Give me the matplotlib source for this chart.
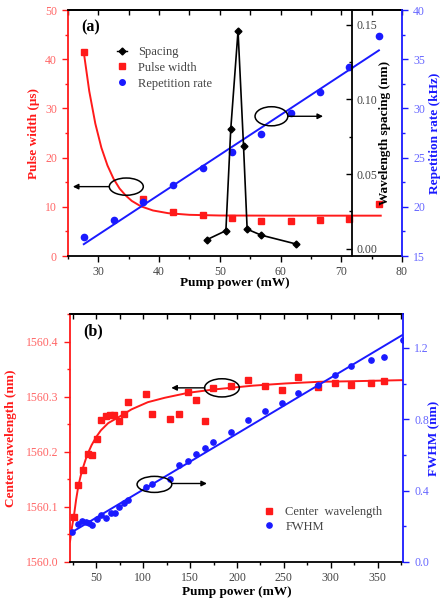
import matplotlib
matplotlib.use('Agg')
import matplotlib.pyplot as plt
from matplotlib.patches import Ellipse
from matplotlib.lines import Line2D
from matplotlib.ticker import MultipleLocator, FormatStrFormatter

plt.rcParams['font.family'] = ['Liberation Serif', 'DejaVu Serif']

RED = '#ff1a1a'
RED_L = '#ff6666'
BLUE = '#1a1aff'
BLUE_L = '#6666ff'
GRAY = '#444444'

# ---------------- Panel (a) data ----------------
pw_x = [27.6, 37.4, 42.3, 47.2, 52.0, 56.8, 61.7, 66.5, 71.3, 76.2]
pw_y = [41.5, 11.6, 8.9, 8.3, 7.7, 7.2, 7.2, 7.3, 7.5, 10.6]
pw_fit_x = [27.6, 28.5, 29.5, 30.5, 31.5, 32.5, 33.5, 34.5, 35.5, 37.0, 39.0, 41.5, 45.0, 50.0, 60.0, 76.5]
pw_fit_y = [41.4, 33.5, 26.9, 22.0, 18.4, 15.7, 13.7, 12.3, 11.2, 10.1, 9.25, 8.7, 8.37, 8.23, 8.2, 8.2]

rep_x = [27.6, 32.6, 37.4, 42.3, 47.2, 52.0, 56.8, 61.7, 66.5, 71.3, 76.2]
rep_y = [16.9, 18.7, 20.5, 22.2, 23.9, 25.6, 27.4, 29.5, 31.7, 34.2, 37.4]
rep_fit_x = [27.6, 76.2]
rep_fit_y = [16.2, 35.9]

sp_x = [47.9, 51.0, 51.8, 53.0, 53.9, 54.5, 56.8, 62.6]
sp_y = [0.006, 0.012, 0.080, 0.146, 0.069, 0.013, 0.009, 0.003]

# ---------------- Panel (b) data ----------------
cw_x = [26.3, 30.9, 36.2, 40.8, 45.1, 50.4, 55.0, 60.0, 64.6, 69.1, 74.1, 79.4, 84.0,
        102.5, 108.9, 128.4, 138.3, 147.9, 156.5, 165.6, 174.5, 193.5, 211.7, 230.3,
        247.9, 265.2, 286.9, 304.6, 322.0, 343.3, 356.4]
cw_y = [1560.082, 1560.140, 1560.167, 1560.196, 1560.195, 1560.223, 1560.257, 1560.265,
        1560.267, 1560.267, 1560.255, 1560.269, 1560.290, 1560.304, 1560.268, 1560.259,
        1560.269, 1560.308, 1560.294, 1560.256, 1560.315, 1560.319, 1560.331, 1560.320,
        1560.312, 1560.335, 1560.317, 1560.325, 1560.321, 1560.325, 1560.328]
cw_fit_x = [22, 24, 26.3, 28.5, 30.9, 33.5, 36.2, 40, 45, 50, 55, 62.7, 75, 87.6, 105,
            123, 148, 175, 217, 252, 288, 323, 377]
cw_fit_y = [1560.037, 1560.062, 1560.085, 1560.113, 1560.138, 1560.157, 1560.173,
            1560.193, 1560.212, 1560.227, 1560.239, 1560.252, 1560.264, 1560.277,
            1560.290, 1560.298, 1560.307, 1560.313, 1560.320, 1560.324, 1560.327,
            1560.328, 1560.330]

fwhm_x = [24.5, 30.2, 34.4, 38.7, 42.2, 45.7, 50.4, 55.0, 60.3, 65.3, 69.9, 74.1, 79.4,
          84.0, 102.5, 108.9, 128.4, 138.3, 147.9, 156.5, 165.6, 174.5, 193.5, 211.7,
          230.3, 247.9, 265.2, 286.9, 304.6, 322.0, 343.3, 356.4, 376.6]
fwhm_y = [0.170, 0.213, 0.230, 0.226, 0.217, 0.207, 0.240, 0.264, 0.245, 0.275, 0.273,
          0.308, 0.329, 0.348, 0.420, 0.436, 0.467, 0.544, 0.565, 0.605, 0.641, 0.673,
          0.731, 0.796, 0.848, 0.890, 0.948, 0.990, 1.049, 1.099, 1.133, 1.148, 1.247]
fwhm_fit_x = [23, 376.6]
fwhm_fit_y = [0.164, 1.273]

TICK_FS = 8.5
LAB_FS = 9.5

fig = plt.figure(figsize=(4.4, 6.03), dpi=100)

def style_spines(ax, left=None, right=None, bottom=None, top=None):
    for name, c in (('left', left), ('right', right), ('bottom', bottom), ('top', top)):
        if c is None:
            ax.spines[name].set_visible(False)
        else:
            ax.spines[name].set_color(c)
            ax.spines[name].set_linewidth(1.3)

def top_ticks(ax, major, minor):
    sec = ax.secondary_xaxis('top')
    sec.xaxis.set_major_locator(MultipleLocator(major))
    sec.xaxis.set_minor_locator(MultipleLocator(minor))
    sec.tick_params(axis='x', which='both', direction='in', labeltop=False, length=3.5, width=1)
    sec.spines['top'].set_linewidth(1.3)

# ================= Panel (a) =================
axA = fig.add_axes([68/440, 1-256/603, 334/440, 246/603])
axA.plot(pw_fit_x, pw_fit_y, color=RED, lw=1.4, zorder=2)
axA.plot(pw_x, pw_y, 's', color=RED, ms=4.5, zorder=3)
axA.set_xlim(25, 80)
axA.set_ylim(0, 50)
style_spines(axA, left=RED, bottom='k', top='k')
axA.xaxis.set_major_locator(MultipleLocator(10))
axA.xaxis.set_minor_locator(MultipleLocator(5))
axA.yaxis.set_major_locator(MultipleLocator(10))
axA.yaxis.set_minor_locator(MultipleLocator(5))
axA.tick_params(axis='x', which='both', direction='out', labelsize=TICK_FS, labelcolor=GRAY, width=1)
axA.tick_params(axis='x', which='major', length=4)
axA.tick_params(axis='x', which='minor', length=2.5)
axA.tick_params(axis='y', which='both', direction='out', labelsize=TICK_FS, labelcolor=RED_L, color=RED, width=1)
axA.tick_params(axis='y', which='major', length=4.5)
axA.tick_params(axis='y', which='minor', length=2.5)
top_ticks(axA, 10, 5)
axA.set_xlabel('Pump power (mW)', fontsize=LAB_FS, fontweight='bold')
axA.xaxis.set_label_coords(0.5, -0.085)
axA.set_ylabel('Pulse width (\u03bcs)', fontsize=LAB_FS, fontweight='bold', color=RED)
axA.yaxis.set_label_coords(-0.085, 0.5)
axA.text(0.04, 0.93, '(a)', transform=axA.transAxes, fontsize=11.5, fontweight='bold', va='center')

axA.add_patch(Ellipse((34.6, 14.1), 5.6, 3.5, fill=False, ec='k', lw=1.1, zorder=4))
axA.annotate('', xy=(25.8, 14.1), xytext=(31.8, 14.1),
             arrowprops=dict(arrowstyle='-|>', color='k', lw=1, mutation_scale=8, shrinkA=0, shrinkB=0))

# repetition rate axis
axA2 = axA.twinx()
axA2.plot(rep_fit_x, rep_fit_y, color=BLUE, lw=1.4, zorder=2)
axA2.plot(rep_x, rep_y, 'o', color=BLUE, ms=4.5, zorder=3)
axA2.set_ylim(15, 40)
style_spines(axA2, right=BLUE)
axA2.yaxis.set_major_locator(MultipleLocator(5))
axA2.yaxis.set_minor_locator(MultipleLocator(2.5))
axA2.tick_params(axis='y', which='both', direction='out', labelsize=TICK_FS, labelcolor=BLUE_L, color=BLUE, width=1)
axA2.tick_params(axis='y', which='major', length=4.5)
axA2.tick_params(axis='y', which='minor', length=2.5)
axA2.set_ylabel('Repetition rate (kHz)', fontsize=LAB_FS, fontweight='bold', color=BLUE)
axA2.yaxis.set_label_coords(1.08, 0.5)
axA2.add_patch(Ellipse((58.5, 29.2), 5.4, 1.94, fill=False, ec='k', lw=1.1, zorder=4))
axA2.annotate('', xy=(67.0, 29.2), xytext=(61.2, 29.2),
              arrowprops=dict(arrowstyle='-|>', color='k', lw=1, mutation_scale=8, shrinkA=0, shrinkB=0))

# wavelength spacing axis
axA3 = axA.twinx()
axA3.plot(sp_x, sp_y, '-D', color='k', ms=3.5, lw=1.2, zorder=3)
axA3.set_ylim(-0.005, 0.16)
style_spines(axA3, right='k')
axA3.spines['right'].set_position(('axes', 0.85))
axA3.yaxis.set_major_locator(MultipleLocator(0.05))
axA3.yaxis.set_minor_locator(MultipleLocator(0.025))
axA3.yaxis.set_major_formatter(FormatStrFormatter('%.2f'))
axA3.tick_params(axis='y', which='both', direction='in', labelsize=TICK_FS, labelcolor=GRAY, width=1)
axA3.tick_params(axis='y', which='major', length=4)
axA3.tick_params(axis='y', which='minor', length=2.5)
axA3.set_ylabel('Wavelength spacing (nm)', fontsize=LAB_FS, fontweight='bold')
axA3.yaxis.set_label_coords(0.93, 0.5)

handlesA = [Line2D([], [], color='k', marker='D', ms=3.5, lw=1),
            Line2D([], [], color=RED, marker='s', ls='none', ms=4),
            Line2D([], [], color=BLUE, marker='o', ls='none', ms=4)]
axA3.legend(handlesA, ['Spacing', 'Pulse width', 'Repetition rate'], loc='upper left',
            bbox_to_anchor=(117/440, 1-46/603), bbox_transform=fig.transFigure,
            frameon=False, handlelength=0.8, handletextpad=0.9, labelspacing=0.3,
            borderpad=0, borderaxespad=0, prop={'size': 9}, labelcolor=GRAY)

# ================= Panel (b) =================
axB = fig.add_axes([70/440, 1-562/603, 333/440, 248/603])
axB.plot(cw_fit_x, cw_fit_y, color=RED, lw=1.4, zorder=2)
axB.plot(cw_x, cw_y, 's', color=RED, ms=3.8, zorder=3)
axB.set_xlim(22, 377)
axB.set_ylim(1560.0, 1560.45)
style_spines(axB, left=RED, bottom='k', top='k')
axB.xaxis.set_major_locator(MultipleLocator(50))
axB.xaxis.set_minor_locator(MultipleLocator(25))
axB.yaxis.set_major_locator(MultipleLocator(0.1))
axB.yaxis.set_minor_locator(MultipleLocator(0.05))
axB.yaxis.set_major_formatter(FormatStrFormatter('%.1f'))
axB.tick_params(axis='x', which='both', direction='out', labelsize=TICK_FS, labelcolor=GRAY, width=1)
axB.tick_params(axis='x', which='major', length=4)
axB.tick_params(axis='x', which='minor', length=2.5)
axB.tick_params(axis='y', which='both', direction='out', labelsize=TICK_FS, labelcolor=RED_L, color=RED, width=1)
axB.tick_params(axis='y', which='major', length=4.5)
axB.tick_params(axis='y', which='minor', length=2.5)
top_ticks(axB, 50, 25)
axB.set_xlabel('Pump power (mW)', fontsize=LAB_FS, fontweight='bold')
axB.xaxis.set_label_coords(0.5, -0.095)
axB.set_ylabel('Center wavelength (nm)', fontsize=LAB_FS, fontweight='bold', color=RED)
axB.yaxis.set_label_coords(-0.16, 0.5)
axB.text(0.04, 0.93, '(b)', transform=axB.transAxes, fontsize=11.5, fontweight='bold', va='center')
axB.add_patch(Ellipse((184, 1560.316), 37, 0.033, fill=False, ec='k', lw=1.1, zorder=4))
axB.annotate('', xy=(130, 1560.316), xytext=(165.6, 1560.316),
             arrowprops=dict(arrowstyle='-|>', color='k', lw=1, mutation_scale=8, shrinkA=0, shrinkB=0))

axB2 = axB.twinx()
axB2.plot(fwhm_fit_x, fwhm_fit_y, color=BLUE, lw=1.4, zorder=2)
axB2.plot(fwhm_x, fwhm_y, 'o', color=BLUE, ms=3.8, zorder=3)
axB2.set_ylim(0, 1.39)
style_spines(axB2, right=BLUE)
axB2.yaxis.set_major_locator(MultipleLocator(0.4))
axB2.yaxis.set_minor_locator(MultipleLocator(0.2))
axB2.yaxis.set_major_formatter(FormatStrFormatter('%.1f'))
axB2.tick_params(axis='y', which='both', direction='out', labelsize=TICK_FS, labelcolor=BLUE_L, color=BLUE, width=1)
axB2.tick_params(axis='y', which='major', length=4.5)
axB2.tick_params(axis='y', which='minor', length=2.5)
axB2.set_ylabel('FWHM (nm)', fontsize=LAB_FS, fontweight='bold', color=BLUE)
axB2.yaxis.set_label_coords(1.075, 0.5)
axB2.add_patch(Ellipse((112, 0.435), 37, 0.09, fill=False, ec='k', lw=1.1, zorder=4))
axB2.annotate('', xy=(168, 0.44), xytext=(130.5, 0.44),
              arrowprops=dict(arrowstyle='-|>', color='k', lw=1, mutation_scale=8, shrinkA=0, shrinkB=0))

handlesB = [Line2D([], [], color=RED, marker='s', ls='none', ms=3.8),
            Line2D([], [], color=BLUE, marker='o', ls='none', ms=3.8)]
axB2.legend(handlesB, ['Center  wavelength', 'FWHM'], loc='upper left',
            bbox_to_anchor=(264/440, 1-506/603), bbox_transform=fig.transFigure,
            frameon=False, handlelength=0.8, handletextpad=0.9, labelspacing=0.2,
            borderpad=0, borderaxespad=0, prop={'size': 9}, labelcolor=GRAY)

fig.savefig('out.png', dpi=100)
